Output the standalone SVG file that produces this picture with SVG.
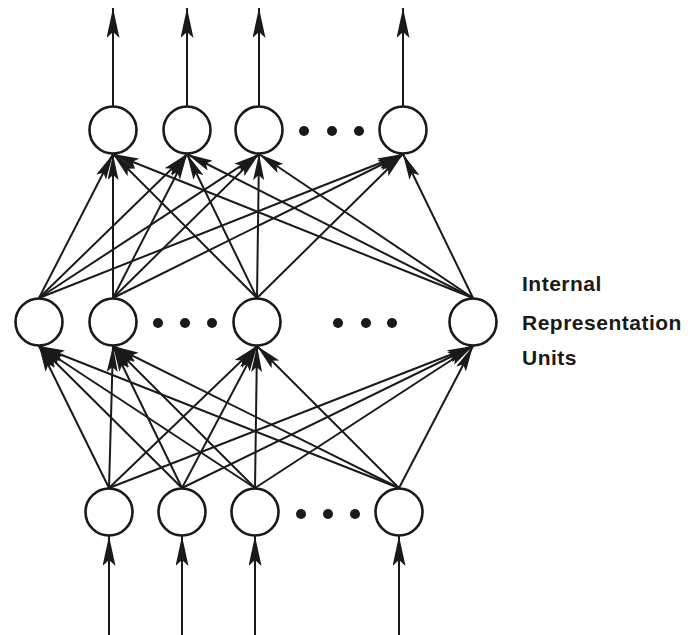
<svg xmlns="http://www.w3.org/2000/svg" width="698" height="635" viewBox="0 0 698 635">
<style>
.edge{stroke:#1a1a1a;stroke-width:2;fill:none;marker-end:url(#ah)}
.io{stroke:#1a1a1a;stroke-width:2;fill:none;marker-end:url(#big)}
.unit{fill:#fff;stroke:#1a1a1a;stroke-width:2.6}
.dot{fill:#1a1a1a}
.lbl{font-family:"Liberation Sans",Arial,sans-serif;font-weight:bold;font-size:21px;letter-spacing:0.5px;fill:#1a1a1a}
</style>
<defs>
<marker id="ah" markerUnits="userSpaceOnUse" markerWidth="26" markerHeight="11" refX="26" refY="5.5" orient="auto" viewBox="0 0 26 11">
<path d="M26 5.5 L0 0 L5 5.5 L0 11 Z" fill="#1a1a1a"/>
</marker>
<marker id="big" markerUnits="userSpaceOnUse" markerWidth="30" markerHeight="13" refX="30" refY="6.5" orient="auto" viewBox="0 0 30 13">
<path d="M30 6.5 L0 0 L6 6.5 L0 13 Z" fill="#1a1a1a"/>
</marker>
</defs>
<g id="connectors">
<line class="io" x1="113" y1="106" x2="113" y2="8"/>
<line class="io" x1="187" y1="106" x2="187" y2="8"/>
<line class="io" x1="259" y1="106" x2="259" y2="8"/>
<line class="io" x1="403" y1="106" x2="403" y2="8"/>
<line class="io" x1="109" y1="635" x2="109" y2="536"/>
<line class="io" x1="182" y1="635" x2="182" y2="536"/>
<line class="io" x1="255" y1="635" x2="255" y2="536"/>
<line class="io" x1="399" y1="635" x2="399" y2="536"/>
<line class="edge" x1="39" y1="298" x2="113" y2="154"/>
<line class="edge" x1="39" y1="298" x2="187" y2="154"/>
<line class="edge" x1="39" y1="298" x2="259" y2="154"/>
<line class="edge" x1="39" y1="298" x2="403" y2="154"/>
<line class="edge" x1="113" y1="298" x2="113" y2="154"/>
<line class="edge" x1="113" y1="298" x2="187" y2="154"/>
<line class="edge" x1="113" y1="298" x2="259" y2="154"/>
<line class="edge" x1="113" y1="298" x2="403" y2="154"/>
<line class="edge" x1="257" y1="298" x2="113" y2="154"/>
<line class="edge" x1="257" y1="298" x2="187" y2="154"/>
<line class="edge" x1="257" y1="298" x2="259" y2="154"/>
<line class="edge" x1="257" y1="298" x2="403" y2="154"/>
<line class="edge" x1="473" y1="298" x2="113" y2="154"/>
<line class="edge" x1="473" y1="298" x2="187" y2="154"/>
<line class="edge" x1="473" y1="298" x2="259" y2="154"/>
<line class="edge" x1="473" y1="298" x2="403" y2="154"/>
<line class="edge" x1="109" y1="488" x2="39" y2="346"/>
<line class="edge" x1="109" y1="488" x2="113" y2="346"/>
<line class="edge" x1="109" y1="488" x2="257" y2="346"/>
<line class="edge" x1="109" y1="488" x2="473" y2="346"/>
<line class="edge" x1="182" y1="488" x2="39" y2="346"/>
<line class="edge" x1="182" y1="488" x2="113" y2="346"/>
<line class="edge" x1="182" y1="488" x2="257" y2="346"/>
<line class="edge" x1="182" y1="488" x2="473" y2="346"/>
<line class="edge" x1="255" y1="488" x2="39" y2="346"/>
<line class="edge" x1="255" y1="488" x2="113" y2="346"/>
<line class="edge" x1="255" y1="488" x2="257" y2="346"/>
<line class="edge" x1="255" y1="488" x2="473" y2="346"/>
<line class="edge" x1="399" y1="488" x2="39" y2="346"/>
<line class="edge" x1="399" y1="488" x2="113" y2="346"/>
<line class="edge" x1="399" y1="488" x2="257" y2="346"/>
<line class="edge" x1="399" y1="488" x2="473" y2="346"/>
</g>
<g id="top-1"><circle class="unit" cx="113" cy="130" r="23.5"/></g>
<g id="top-2"><circle class="unit" cx="187" cy="130" r="23.5"/></g>
<g id="top-3"><circle class="unit" cx="259" cy="130" r="23.5"/></g>
<g id="top-4"><circle class="unit" cx="403" cy="130" r="23.5"/></g>
<g id="top-dots"><circle class="dot" cx="304" cy="131" r="5"/><circle class="dot" cx="332" cy="131" r="5"/><circle class="dot" cx="359" cy="131" r="5"/></g>
<g id="mid-1"><circle class="unit" cx="39" cy="322" r="23.5"/></g>
<g id="mid-2"><circle class="unit" cx="113" cy="322" r="23.5"/></g>
<g id="mid-3"><circle class="unit" cx="257" cy="322" r="23.5"/></g>
<g id="mid-4"><circle class="unit" cx="473" cy="322" r="23.5"/></g>
<g id="mid-dots"><circle class="dot" cx="158" cy="323" r="5"/><circle class="dot" cx="185" cy="323" r="5"/><circle class="dot" cx="212" cy="323" r="5"/><circle class="dot" cx="338" cy="323" r="5"/><circle class="dot" cx="366" cy="323" r="5"/><circle class="dot" cx="392" cy="323" r="5"/></g>
<g id="bot-1"><circle class="unit" cx="109" cy="512" r="23.5"/></g>
<g id="bot-2"><circle class="unit" cx="182" cy="512" r="23.5"/></g>
<g id="bot-3"><circle class="unit" cx="255" cy="512" r="23.5"/></g>
<g id="bot-4"><circle class="unit" cx="399" cy="512" r="23.5"/></g>
<g id="bot-dots"><circle class="dot" cx="301" cy="514" r="5"/><circle class="dot" cx="328" cy="514" r="5"/><circle class="dot" cx="355" cy="514" r="5"/></g>
<g id="label">
<text class="lbl" x="522" y="291">Internal</text>
<text class="lbl" x="522" y="330">Representation</text>
<text class="lbl" x="522" y="365">Units</text>
</g>
</svg>
